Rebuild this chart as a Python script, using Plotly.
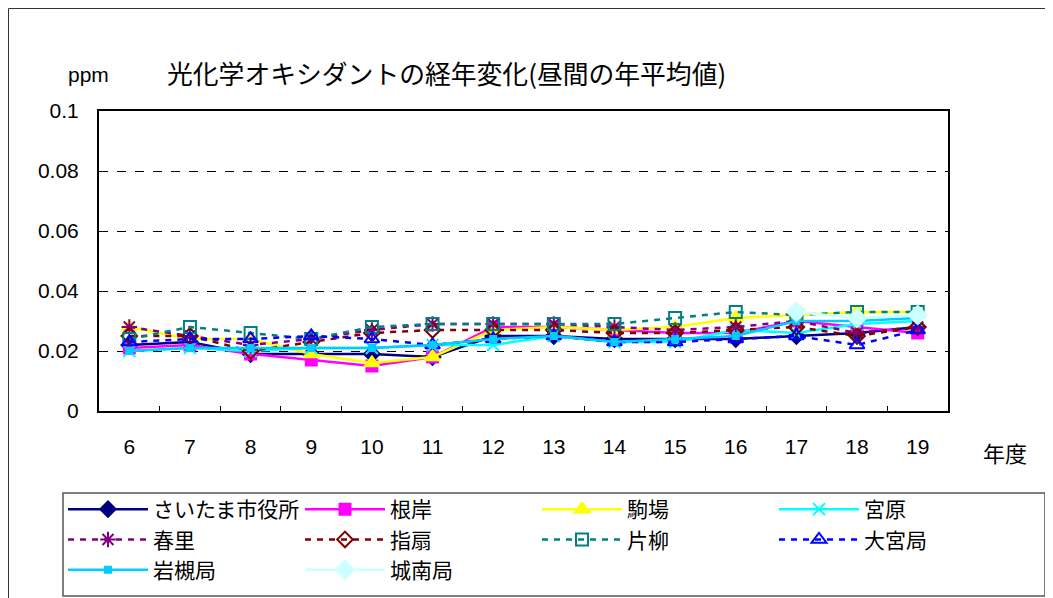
import plotly.graph_objects as go

years = ["6", "7", "8", "9", "10", "11", "12", "13", "14", "15", "16", "17", "18", "19"]

shiyakusho = [0.022, 0.023, 0.019, 0.019, 0.019, 0.018, 0.025, 0.025, 0.024, 0.024, 0.024, 0.025, 0.026, 0.028]
negishi = [0.021, 0.022, 0.019, 0.017, 0.015, 0.018, 0.028, 0.028, 0.027, 0.026, 0.026, 0.030, 0.028, 0.026]
komaba = [0.028, 0.024, 0.024, 0.019, 0.016, 0.018, 0.027, 0.028, 0.027, 0.028, 0.031, 0.032, 0.033, 0.033]
miyahara = [0.020, 0.021, 0.020, 0.021, 0.021, 0.022, 0.022, 0.025, 0.023, 0.023, 0.027, 0.026, 0.029, 0.030]
haruzato = [0.028, 0.025, 0.022, 0.024, 0.027, 0.029, 0.029, 0.029, 0.028, 0.027, 0.028, 0.030, 0.026, 0.028]
sashiogi = [0.025, 0.025, 0.020, 0.023, 0.026, 0.027, 0.027, 0.027, 0.026, 0.026, 0.027, 0.028, 0.025, 0.028]
katayanagi = [0.024, 0.028, 0.026, 0.024, 0.028, 0.029, 0.029, 0.029, 0.029, 0.031, 0.033, 0.032, 0.033, 0.033]
omiya = [0.023, 0.024, 0.024, 0.025, 0.024, 0.022, 0.024, 0.025, 0.023, 0.023, 0.024, 0.025, 0.022, 0.027]
iwatsuki = [0.020, 0.021, 0.021, 0.021, 0.021, 0.022, 0.024, 0.025, 0.023, 0.024, 0.025, 0.030, 0.030, 0.031]
jonan = [None] * 11 + [0.033, 0.031, 0.032]

# name, values, colour, dashed?, marker symbol, marker size
series = [
    ("さいたま市役所", shiyakusho, "#000080", False, "diamond", 12),
    ("根岸", negishi, "#FF00FF", False, "square", 11),
    ("駒場", komaba, "#FFFF00", False, "triangle-up", 13),
    ("宮原", miyahara, "#00FFFF", False, "x-thin-open", 12),
    ("春里", haruzato, "#800080", True, "asterisk-open", 13),
    ("指扇", sashiogi, "#800000", True, "diamond-open", 12),
    ("片柳", katayanagi, "#008080", True, "square-open", 12),
    ("大宮局", omiya, "#0000FF", True, "triangle-up-open", 13),
    ("岩槻局", iwatsuki, "#00CCFF", False, "square", 6),
    ("城南局", jonan, "#CCFFFF", False, "diamond", 14),
]

JP = "Noto Sans CJK JP"
NUM = "Liberation Sans, Arial"

# page body has an 8px margin, so figure coords = screen coords - 8
W, H = 1100, 598
L, T, PW, PH = 91, 103, 849, 300


def px(fx):
    return (fx - L) / PW


def py(fy):
    return (T + PH - fy) / PH


fig = go.Figure()
for name, vals, color, dashed, symbol, size in series:
    fig.add_trace(go.Scatter(
        x=years, y=vals, name=name, mode="lines+markers",
        line=dict(color=color, width=2.5, dash="6px,6px" if dashed else "solid"),
        marker=dict(symbol=symbol, size=size, color=color,
                    line=dict(color=color, width=2)),
    ))

fig.update_layout(
    width=W, height=H,
    margin=dict(l=L, r=W - L - PW, t=T, b=H - T - PH),
    paper_bgcolor="white", plot_bgcolor="white",
    font=dict(family=NUM, size=21, color="black"),
    showlegend=True,
    legend=dict(
        orientation="h", x=px(1003), xanchor="right", y=py(481), yanchor="top",
        entrywidth=142, entrywidthmode="pixels", itemwidth=80,
        font=dict(family=JP, size=21, color="black"),
        borderwidth=0, bgcolor="rgba(0,0,0,0)",
        traceorder="normal",
    ),
)

fig.update_xaxes(
    type="category", range=[-0.5, 13.5],
    showline=True, linecolor="black", linewidth=2, mirror=True,
    ticks="inside", tickson="boundaries", ticklen=5, tickcolor="black",
    showgrid=False, tickfont=dict(family=NUM, size=21), ticklabelstandoff=16,
)
fig.update_yaxes(
    range=[0, 0.1], dtick=0.02, tick0=0,
    showline=True, linecolor="black", linewidth=2, mirror=True,
    ticks="inside", ticklen=5, tickcolor="black",
    showgrid=True, gridcolor="black", gridwidth=1, griddash="dash",
    zeroline=False, tickfont=dict(family=NUM, size=21), ticklabelstandoff=14,
)

fig.add_annotation(text="光化学オキシダントの経年変化(昼間の年平均値)", xref="paper", yref="paper",
                   x=px(157), y=py(64), xanchor="left", yanchor="middle",
                   showarrow=False, font=dict(family=JP, size=25.8))
fig.add_annotation(text="ppm", xref="paper", yref="paper",
                   x=px(80), y=py(67), xanchor="center", yanchor="middle",
                   showarrow=False, font=dict(family=NUM, size=21))
fig.add_annotation(text="年度", xref="paper", yref="paper",
                   x=px(997), y=py(444), xanchor="center", yanchor="middle",
                   showarrow=False, font=dict(family=JP, size=22))

# legend frame
fig.add_shape(type="rect", xref="paper", yref="paper",
              x0=px(55), x1=px(1037), y0=py(588), y1=py(485),
              line=dict(color="#555555", width=1.5), fillcolor="white", layer="below")

# outer chart-area border
fig.add_shape(type="rect", xref="paper", yref="paper",
              x0=px(0.5), x1=px(W - 0.5), y0=py(H - 0.5), y1=py(0.5),
              line=dict(color="#333333", width=1), layer="below")

fig.write_html("out.html")
